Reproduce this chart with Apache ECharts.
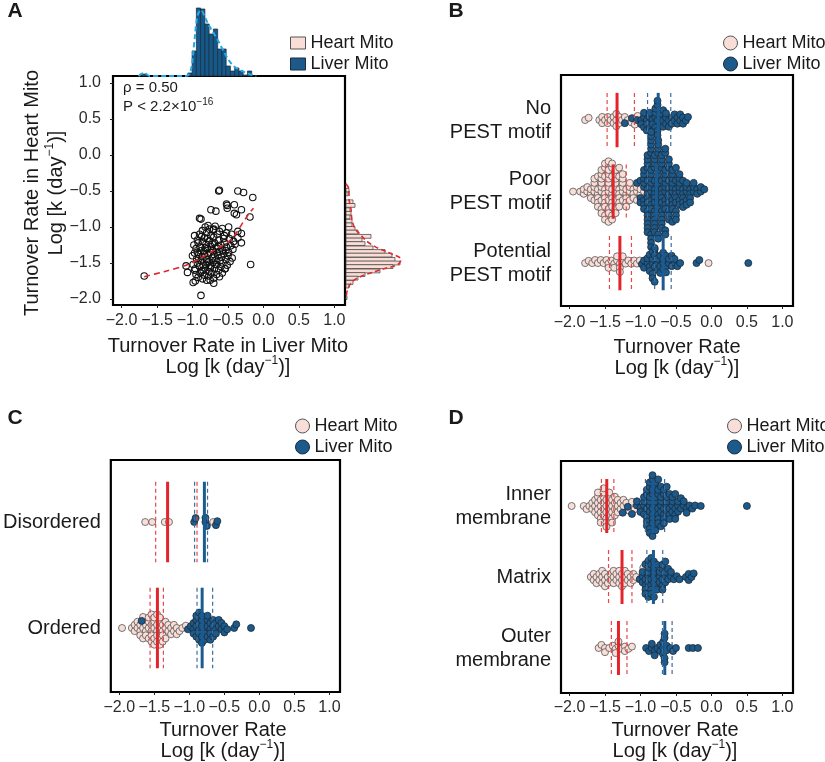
<!DOCTYPE html>
<html><head><meta charset="utf-8">
<script src="https://cdn.jsdelivr.net/npm/echarts@6/dist/echarts.min.js"></script>
<style>html,body{margin:0;padding:0;background:#fff}#c{width:825px;height:762px}</style>
</head><body><div id="c"></div>
<script>
// ---------------- DATA ----------------
const tickValues = [-2, -1.5, -1, -0.5, 0, 0.5, 1];

// Panel A: liver (x) vs heart (y) turnover, log k
const scatterA = [
 [-0.97,-1.12],[-0.93,-1.18],[-0.90,-1.10],[-0.86,-1.05],[-0.83,-1.15],[-0.80,-1.08],[-0.78,-0.98],[-0.74,-1.12],[-0.71,-1.04],[-0.68,-0.99],[-0.65,-1.10],[-0.62,-1.06],[-0.58,-1.02],[-0.55,-1.12],[-0.52,-1.08],[-0.48,-1.16],[-0.45,-1.10],[-0.42,-1.20],
 [-0.98,-1.25],[-0.95,-1.30],[-0.92,-1.22],[-0.89,-1.28],[-0.86,-1.20],[-0.84,-1.34],[-0.81,-1.24],[-0.79,-1.30],[-0.76,-1.19],[-0.74,-1.27],[-0.71,-1.33],[-0.69,-1.22],[-0.66,-1.29],[-0.63,-1.18],[-0.60,-1.25],[-0.58,-1.32],[-0.55,-1.22],[-0.52,-1.28],[-0.49,-1.35],[-0.46,-1.26],[-0.43,-1.31],[-0.40,-1.24],
 [-1.00,-1.40],[-0.97,-1.36],[-0.94,-1.44],[-0.91,-1.38],[-0.88,-1.47],[-0.86,-1.41],[-0.83,-1.37],[-0.80,-1.45],[-0.78,-1.39],[-0.75,-1.35],[-0.72,-1.43],[-0.70,-1.38],[-0.67,-1.46],[-0.64,-1.40],[-0.62,-1.34],[-0.59,-1.42],[-0.56,-1.37],[-0.53,-1.45],[-0.50,-1.40],[-0.47,-1.48],[-0.44,-1.43],
 [-0.99,-1.52],[-0.96,-1.58],[-0.93,-1.50],[-0.90,-1.55],[-0.87,-1.61],[-0.85,-1.53],[-0.82,-1.57],[-0.79,-1.50],[-0.77,-1.62],[-0.74,-1.54],[-0.71,-1.49],[-0.69,-1.58],[-0.66,-1.52],[-0.63,-1.60],[-0.60,-1.55],[-0.57,-1.50],[-0.54,-1.58],[-0.51,-1.53],
 [-0.95,-1.66],[-0.92,-1.70],[-0.89,-1.64],[-0.86,-1.72],[-0.83,-1.67],[-0.80,-1.74],[-0.77,-1.68],[-0.73,-1.64],[-0.70,-1.71],[-0.66,-1.66],[-0.62,-1.69],[-0.58,-1.64],
 [-0.88,-1.33],[-0.82,-1.29],[-0.77,-1.48],[-0.73,-1.31],[-0.68,-1.52],[-0.64,-1.27],[-0.85,-1.60],[-0.91,-1.44],[-0.79,-1.16],[-0.70,-1.14],[-0.61,-1.47],[-0.56,-1.16],[-0.93,-1.35],[-0.87,-1.13],[-0.75,-1.57],[-0.65,-1.35],[-0.53,-1.33],[-0.97,-1.60],[-0.81,-1.52],[-0.72,-1.24],
 [-0.63,-0.50],[-0.62,-0.49],[-0.36,-0.50],[-0.28,-0.52],[-0.15,-0.59],[-0.52,-0.68],[-0.51,-0.70],[-0.41,-0.69],[-0.31,-0.76],[-0.74,-0.76],[-0.67,-0.78],[-0.41,-0.81],[-0.38,-0.83],[-0.51,-0.74],[-0.90,-0.88],[-0.88,-0.89],[-0.19,-0.86],[-0.49,-1.00],[-0.82,-1.00],[-0.76,-1.03],[-0.70,-1.03],[-0.36,-1.06],[-0.31,-1.09],[-0.36,-1.15],[-0.31,-1.22],[-0.18,-1.52],[-0.88,-1.95],[-0.75,-1.74],[-0.70,-1.78],[-0.99,-1.77],[-0.96,-1.75],[-1.07,-1.63],[-1.09,-1.54],[-0.54,-1.58],[-1.68,-1.68]
];
const loessA = [[-1.68,-1.69],[-1.40,-1.62],[-1.09,-1.53],[-0.90,-1.44],[-0.74,-1.35],[-0.60,-1.27],[-0.46,-1.18],[-0.38,-1.08],[-0.31,-0.97],[-0.25,-0.88],[-0.20,-0.81],[-0.14,-0.74]];
// marginal histograms: [bin centre, height]
const liverHist = [[-1.68,2],[-1.035,3],[-0.975,25],[-0.915,68],[-0.855,67],[-0.795,52],[-0.735,42],[-0.675,47],[-0.615,27],[-0.555,27],[-0.495,10],[-0.435,5],[-0.375,8],[-0.315,5],[-0.255,1],[-0.195,5]];
const liverDensity = [[-1.76,0],[-1.68,3],[-1.60,0],[-1.10,0],[-1.03,4],[-0.98,30],[-0.93,60],[-0.88,66],[-0.83,60],[-0.78,52],[-0.72,45],[-0.66,38],[-0.60,30],[-0.54,22],[-0.48,15],[-0.42,10],[-0.36,7],[-0.30,5],[-0.24,3],[-0.18,1.5],[-0.10,0]];
const heartHist = [[-0.49,3],[-0.54,2],[-0.65,7],[-0.70,9],[-0.76,4],[-0.81,5],[-0.86,4],[-0.92,6],[-0.97,6],[-1.02,9],[-1.07,12],[-1.13,25],[-1.18,16],[-1.23,19],[-1.29,27],[-1.34,39],[-1.39,46],[-1.45,49],[-1.50,54],[-1.55,47],[-1.61,34],[-1.66,19],[-1.71,12],[-1.77,7],[-1.82,3],[-1.98,1]];
const heartDensity = [[0,-0.40],[3,-0.48],[3,-0.60],[5,-0.75],[6,-0.90],[9,-1.02],[14,-1.10],[21,-1.20],[33,-1.30],[47,-1.38],[55,-1.45],[52,-1.52],[38,-1.58],[22,-1.65],[10,-1.72],[4,-1.80],[1,-1.90],[0,-2.00]];

// Panel B: PEST motif. Each group: [log k, number of proteins]
const bCategories = ['No\nPEST motif', 'Poor\nPEST motif', 'Potential\nPEST motif'];
const bHeart = [
 [[-1.78,1],[-1.73,1],[-1.58,1],[-1.54,2],[-1.50,1],[-1.46,2],[-1.42,1],[-1.38,2],[-1.34,3],[-1.30,2],[-1.26,1],[-1.22,1],[-1.18,1],[-1.13,1],[-1.08,1],[-1.04,1]],
 [[-1.95,1],[-1.85,1],[-1.80,2],[-1.75,2],[-1.70,3],[-1.65,5],[-1.60,6],[-1.55,9],[-1.50,10],[-1.45,11],[-1.40,10],[-1.35,9],[-1.30,7],[-1.25,6],[-1.20,5],[-1.15,4],[-1.10,3],[-1.05,3],[-1.00,2],[-0.95,1]],
 [[-1.78,1],[-1.73,1],[-1.68,1],[-1.64,1],[-1.60,1],[-1.56,1],[-1.52,1],[-1.48,1],[-1.45,2],[-1.41,1],[-1.37,2],[-1.33,2],[-1.29,3],[-1.25,2],[-1.21,1],[-1.17,1],[-1.13,1],[-1.09,1],[-1.05,1],[-1.01,1],[-0.04,1]]
];
const bLiver = [
 [[-1.22,1],[-1.12,1],[-1.05,1],[-0.99,2],[-0.95,3],[-0.91,3],[-0.87,3],[-0.83,3],[-0.79,4],[-0.76,5],[-0.72,3],[-0.68,3],[-0.64,3],[-0.60,2],[-0.56,2],[-0.52,2],[-0.48,2],[-0.44,2],[-0.40,2],[-0.36,1],[-0.33,1]],
 [[-1.05,1],[-1.00,3],[-0.95,8],[-0.90,15],[-0.85,19],[-0.80,17],[-0.75,15],[-0.70,14],[-0.65,13],[-0.60,11],[-0.55,10],[-0.50,9],[-0.45,7],[-0.40,6],[-0.35,5],[-0.30,4],[-0.25,3],[-0.20,2],[-0.15,2],[-0.10,1]],
 [[-0.98,1],[-0.95,2],[-0.90,2],[-0.87,3],[-0.83,5],[-0.80,4],[-0.76,3],[-0.72,3],[-0.68,4],[-0.64,3],[-0.60,2],[-0.56,2],[-0.52,2],[-0.48,1],[-0.44,1],[-0.21,1],[-0.17,1],[0.52,1]]
];
// [lower quartile, median, upper quartile]
const bHeartStats = [[-1.47,-1.33,-1.085],[-1.49,-1.385,-1.20],[-1.437,-1.29,-1.127]];
const bLiverStats = [[-0.90,-0.75,-0.573],[-0.90,-0.775,-0.62],[-0.80,-0.68,-0.567]];

// Panel C: disorder
const cCategories = ['Disordered', 'Ordered'];
const cHeart = [
 [[-1.63,1],[-1.53,1],[-1.35,1],[-1.29,1],[-0.66,1]],
 [[-1.96,1],[-1.82,1],[-1.78,2],[-1.74,2],[-1.70,3],[-1.66,3],[-1.62,3],[-1.58,4],[-1.54,5],[-1.50,5],[-1.46,5],[-1.42,5],[-1.38,4],[-1.34,3],[-1.30,2],[-1.26,2],[-1.22,2],[-1.18,2],[-1.14,1],[-1.10,1],[-1.05,1]]
];
const cLiver = [
 [[-0.93,1],[-0.91,1],[-0.77,2],[-0.75,1],[-0.62,1],[-0.60,1]],
 [[-1.68,1],[-1.02,1],[-0.98,1],[-0.94,3],[-0.90,4],[-0.86,5],[-0.82,5],[-0.78,4],[-0.74,4],[-0.70,4],[-0.66,3],[-0.62,3],[-0.58,2],[-0.54,2],[-0.50,2],[-0.46,1],[-0.36,1],[-0.33,1],[-0.12,1]]
];
const cHeartStats = [[-1.48,-1.31,-0.89],[-1.56,-1.455,-1.37]];
const cLiverStats = [[-0.925,-0.785,-0.74],[-0.89,-0.817,-0.667]];

// Panel D: sub-mitochondrial location
const dCategories = ['Inner\nmembrane', 'Matrix', 'Outer\nmembrane'];
const dHeart = [
 [[-1.97,1],[-1.80,1],[-1.76,1],[-1.72,1],[-1.68,2],[-1.64,3],[-1.60,5],[-1.56,5],[-1.52,6],[-1.48,6],[-1.44,5],[-1.40,5],[-1.36,4],[-1.32,3],[-1.28,2],[-1.24,2],[-1.20,1],[-1.16,1],[-1.12,2],[-1.08,1]],
 [[-1.70,1],[-1.66,2],[-1.62,2],[-1.58,2],[-1.54,3],[-1.50,3],[-1.46,2],[-1.42,2],[-1.38,3],[-1.34,2],[-1.30,3],[-1.26,3],[-1.22,3],[-1.18,2],[-1.14,2],[-1.10,2],[-1.06,1],[-0.96,1]],
 [[-1.59,1],[-1.55,1],[-1.50,2],[-1.44,1],[-1.39,1],[-1.35,2],[-1.31,2],[-1.27,1],[-1.22,2],[-1.17,1],[-1.12,1]]
];
const dLiver = [
 [[-1.25,1],[-1.18,1],[-1.12,1],[-1.05,2],[-1.00,2],[-0.95,4],[-0.91,6],[-0.87,8],[-0.83,9],[-0.79,8],[-0.75,7],[-0.71,6],[-0.67,6],[-0.63,5],[-0.59,4],[-0.55,4],[-0.51,4],[-0.47,3],[-0.43,2],[-0.39,2],[-0.35,2],[-0.31,1],[-0.27,1],[-0.23,1],[-0.15,1],[0.50,1]],
 [[-1.01,1],[-0.97,3],[-0.93,5],[-0.89,6],[-0.85,6],[-0.81,6],[-0.77,4],[-0.73,3],[-0.69,5],[-0.65,4],[-0.61,2],[-0.57,2],[-0.53,1],[-0.49,1],[-0.45,1],[-0.36,1],[-0.32,2],[-0.28,1],[-0.25,1]],
 [[-0.92,1],[-0.88,1],[-0.84,2],[-0.80,2],[-0.76,1],[-0.72,2],[-0.68,3],[-0.66,4],[-0.63,2],[-0.58,1],[-0.54,1],[-0.50,1],[-0.32,1],[-0.26,1],[-0.19,1]]
];
const dHeartStats = [[-1.55,-1.475,-1.375],[-1.45,-1.26,-1.12],[-1.41,-1.31,-1.19]];
const dLiverStats = [[-0.93,-0.827,-0.66],[-0.91,-0.817,-0.686],[-0.69,-0.657,-0.554]];

// ---------------- STYLE / HELPERS ----------------
const FONT = "'Liberation Sans', Arial, Helvetica, sans-serif";
const TXT = '#1a1a1a';
const HEART_FILL = '#f9ddd7', HEART_EDGE = '#555';
const LIVER_FILL = '#1b5a8b', LIVER_EDGE = '#1e2b38';
const RED = '#e3242b', RED_D = '#e8474b', BLUE = '#1c5b91', BLUE_D = '#3d6f9e';
const X_MIN = -2.12, X_MAX = 1.15;
const HALF = 0.38; // half-height of median/quartile bars, in category units
const SWARM_D = 4.2;  // swarm spacing in px

const fmt = v => (v < 0 ? '\u2212' : '') + Math.abs(v).toFixed(1);
const expand = groups => { const out = []; groups.forEach((g, cat) => g.forEach(([x, n]) => { for (let i = 0; i < n; i++) out.push([x, cat]); })); return out; };

function xAxisPanel(gridIndex, margin) {
  return { type: 'value', gridIndex, min: X_MIN, max: X_MAX, axisLine: { show: false, onZero: false }, splitLine: { show: false },
    axisTick: { show: true, customValues: tickValues, length: 3, lineStyle: { color: '#222' } },
    axisLabel: { customValues: tickValues, formatter: fmt, fontSize: 16, color: '#2b2b2b', fontFamily: FONT, margin } };
}
function yCatAxis(gridIndex, min, max, cats) {
  return { type: 'value', gridIndex, min, max, inverse: true, axisLine: { show: false, onZero: false }, splitLine: { show: false },
    axisTick: { show: false },
    axisLabel: { customValues: cats.map((c, i) => i), formatter: v => cats[Math.round(v)], fontSize: 20, lineHeight: 24,
      color: TXT, fontFamily: FONT, margin: 10, align: 'right' } };
}
function hidden(type, gridIndex, min, max) {
  return { type, gridIndex, min, max, show: false, splitLine: { show: false }, axisLine: { onZero: false } };
}
function swarmSeries(id, name, g, groups, fill, edge, z) {
  return { id, name, type: 'scatter', xAxisIndex: g, yAxisIndex: g, z, symbol: 'circle', symbolSize: 7,
    itemStyle: { color: fill, borderColor: edge, borderWidth: 0.8, opacity: 1 }, silent: true,
    data: expand(groups) };
}
function statSeries(id, g, stats, color, dashColor) {
  const data = [];
  stats.forEach((s, cat) => { data.push([s[0], cat, 0], [s[1], cat, 1], [s[2], cat, 0]); });
  return { id, type: 'custom', xAxisIndex: g, yAxisIndex: g, z: 6, silent: true, encode: { x: 0, y: 1 }, data,
    renderItem(params, api) {
      const v = api.value(0), c = api.value(1), med = api.value(2) === 1;
      const p1 = api.coord([v, c - HALF]), p2 = api.coord([v, c + HALF]);
      return { type: 'line', z2: med ? 2 : 1, shape: { x1: p1[0], y1: p1[1], x2: p2[0], y2: p2[1] },
        style: med ? { stroke: color, lineWidth: 3 } : { stroke: dashColor, lineWidth: 1.2, lineDash: [4, 3] } };
    } };
}
function histSeries(name, g, data, width, horizontal, fill, edge) {
  return { name, type: 'custom', xAxisIndex: g, yAxisIndex: g, z: 2, silent: true, data,
    encode: horizontal ? { x: 1, y: 0 } : { x: 0, y: 1 },
    renderItem(params, api) {
      const c = api.value(0), n = api.value(1);
      let a, b;
      if (horizontal) { a = api.coord([0, c + width / 2]); b = api.coord([n, c - width / 2]); }
      else { a = api.coord([c - width / 2, n]); b = api.coord([c + width / 2, 0]); }
      return { type: 'rect', shape: { x: Math.min(a[0], b[0]), y: Math.min(a[1], b[1]), width: Math.abs(b[0] - a[0]), height: Math.abs(b[1] - a[1]) },
        style: { fill, stroke: edge, lineWidth: 0.7 } };
    } };
}
const supRich = (size, sup) => ({
  a: { fontSize: size, fontFamily: FONT, fill: TXT, color: TXT, lineHeight: size + 2, verticalAlign: 'bottom' },
  s: { fontSize: sup, fontFamily: FONT, fill: TXT, color: TXT, lineHeight: sup, verticalAlign: 'top' }
});
function text(x, y, str, size, opts = {}) {
  return { type: 'text', x, y, rotation: opts.rotation || 0, silent: true,
    style: { text: str, fill: TXT, font: `${opts.bold ? 'bold ' : ''}${size}px ${FONT}`,
      align: opts.align || 'center', verticalAlign: 'middle', textAlign: opts.align || 'center', textVerticalAlign: 'middle',
      rich: opts.rich } };
}
const logLabel = '{a|Log [k (day}{s|\u22121}{a|)]}';

const legendBase = (left, top, icon) => ({
  left, top, orient: 'vertical', icon, itemWidth: icon === 'rect' ? 15 : 14, itemHeight: icon === 'rect' ? 12 : 14, itemGap: 3,
  selectedMode: false, textStyle: { fontSize: 18, fontFamily: FONT, color: TXT },
  data: [
    { name: 'Heart Mito', itemStyle: { color: HEART_FILL, borderColor: HEART_EDGE, borderWidth: 1 } },
    { name: 'Liver Mito', itemStyle: { color: LIVER_FILL, borderColor: LIVER_EDGE, borderWidth: 1 } }
  ]
});

// ---------------- OPTION ----------------
const chart = echarts.init(document.getElementById('c'), null, { renderer: 'canvas' });
const AY_MIN = -2.083, AY_MAX = 1.097;
const boxed = { show: true, borderColor: '#000', borderWidth: 2.2, backgroundColor: 'rgba(0,0,0,0)' };
const option = {
  animation: false,
  backgroundColor: '#fff',
  grid: [
    Object.assign({ left: 113, top: 76, width: 232, height: 229 }, boxed),
    { left: 113, top: 3, width: 232, height: 73, show: false },
    { left: 346, top: 76, width: 56, height: 229, show: false },
    Object.assign({ left: 561, top: 75, width: 232, height: 231 }, boxed),
    Object.assign({ left: 108, top: 460, width: 232, height: 232 }, boxed),
    Object.assign({ left: 561, top: 461, width: 232, height: 232 }, boxed)
  ],
  xAxis: [
    xAxisPanel(0, 8),
    hidden('value', 1, X_MIN, X_MAX),
    hidden('value', 2, 0, 56),
    xAxisPanel(3, 9),
    xAxisPanel(4, 8),
    xAxisPanel(5, 7)
  ],
  yAxis: [
    { type: 'value', gridIndex: 0, min: AY_MIN, max: AY_MAX, axisLine: { show: false, onZero: false }, splitLine: { show: false },
      axisTick: { show: true, customValues: tickValues, length: 3, lineStyle: { color: '#222' } },
      axisLabel: { customValues: tickValues, formatter: fmt, fontSize: 16, color: '#2b2b2b', fontFamily: FONT, margin: 12 } },
    hidden('value', 1, 0, 73),
    hidden('value', 2, AY_MIN, AY_MAX),
    yCatAxis(3, -0.63, 2.60, bCategories),
    yCatAxis(4, -0.585, 1.604, cCategories),
    yCatAxis(5, -0.634, 2.634, dCategories)
  ],
  legend: [
    legendBase(285, 29, 'rect'),
    legendBase(718, 29, 'circle'),
    legendBase(290, 412, 'circle'),
    legendBase(722, 412, 'circle')
  ],
  graphic: [
    text(15, 11, 'A', 21, { bold: true }),
    text(456, 11, 'B', 21, { bold: true }),
    text(15, 418, 'C', 21, { bold: true }),
    text(456, 418, 'D', 21, { bold: true }),
    text(123, 88, '\u03c1 = 0.50', 15, { align: 'left' }),
    text(123, 106, '{a|P < 2.2\u00d710}{s|\u221216}', 15, { align: 'left', rich: supRich(15, 10) }),
    text(228, 346, 'Turnover Rate in Liver Mito', 20),
    text(228, 366, logLabel, 20, { rich: supRich(20, 12) }),
    text(32, 193, 'Turnover Rate in Heart Mito', 20, { rotation: Math.PI / 2 }),
    text(55, 193, logLabel, 20, { rotation: Math.PI / 2, rich: supRich(20, 12) }),
    text(677, 347, 'Turnover Rate', 20),
    text(677, 367, logLabel, 20, { rich: supRich(20, 12) }),
    text(223, 730, 'Turnover Rate', 20),
    text(223, 750, logLabel, 20, { rich: supRich(20, 12) }),
    text(675, 730, 'Turnover Rate', 20),
    text(675, 750, logLabel, 20, { rich: supRich(20, 12) })
  ],
  series: [
    // Panel A
    histSeries('Liver Mito', 1, liverHist, 0.06, false, '#14598b', '#1d2733'),
    { type: 'line', xAxisIndex: 1, yAxisIndex: 1, z: 3, data: liverDensity, smooth: 0.35, symbol: 'none', silent: true,
      lineStyle: { color: '#2aa7df', width: 2, type: [5, 3] } },
    histSeries('Heart Mito', 2, heartHist, 0.053, true, HEART_FILL, '#3a3a3a'),
    { type: 'line', xAxisIndex: 2, yAxisIndex: 2, z: 3, data: heartDensity, smooth: 0.35, symbol: 'none', silent: true,
      lineStyle: { color: '#e02b2f', width: 1.6, type: [5, 3] } },
    { type: 'scatter', xAxisIndex: 0, yAxisIndex: 0, z: 3, data: scatterA, symbol: 'circle', symbolSize: 6.5, silent: true,
      itemStyle: { color: 'rgba(255,255,255,0)', borderColor: '#111', borderWidth: 1.1, opacity: 1 } },
    { type: 'line', xAxisIndex: 0, yAxisIndex: 0, z: 4, data: loessA, smooth: 0.3, symbol: 'none', silent: true,
      lineStyle: { color: '#e0262c', width: 1.6, type: [6, 4] } },
    // Panel B
    swarmSeries('bH', 'Heart Mito', 3, bHeart, HEART_FILL, HEART_EDGE, 3),
    swarmSeries('bL', 'Liver Mito', 3, bLiver, LIVER_FILL, LIVER_EDGE, 4),
    statSeries('bHs', 3, bHeartStats, RED, RED_D),
    statSeries('bLs', 3, bLiverStats, BLUE, BLUE_D),
    // Panel C
    swarmSeries('cH', 'Heart Mito', 4, cHeart, HEART_FILL, HEART_EDGE, 3),
    swarmSeries('cL', 'Liver Mito', 4, cLiver, LIVER_FILL, LIVER_EDGE, 4),
    statSeries('cHs', 4, cHeartStats, RED, RED_D),
    statSeries('cLs', 4, cLiverStats, BLUE, BLUE_D),
    // Panel D
    swarmSeries('dH', 'Heart Mito', 5, dHeart, HEART_FILL, HEART_EDGE, 3),
    swarmSeries('dL', 'Liver Mito', 5, dLiver, LIVER_FILL, LIVER_EDGE, 4),
    statSeries('dHs', 5, dHeartStats, RED, RED_D),
    statSeries('dLs', 5, dLiverStats, BLUE, BLUE_D)
  ]
};
chart.setOption(option);

// ---------------- BEESWARM LAYOUT (pixel offsets from the library's own scale) ----------------
function swarmLayout(gridIndex, heartGroups, liverGroups) {
  const sets = [expand(heartGroups), expand(liverGroups)];
  const byCat = {};
  sets.forEach((pts, si) => pts.forEach((p, pi) => {
    const px = chart.convertToPixel({ gridIndex }, [p[0], p[1]])[0];
    (byCat[p[1]] = byCat[p[1]] || []).push({ px, si, pi, dy: 0 });
  }));
  Object.keys(byCat).forEach(k => {
    const list = byCat[k].sort((a, b) => a.px - b.px || a.si - b.si);
    const placed = [];
    let flip = 1;
    const D = SWARM_D, D2 = D * D;
    list.forEach(pt => {
      const near = placed.filter(q => Math.abs(q.px - pt.px) < D);
      const cands = [0];
      near.forEach(q => { const h = Math.sqrt(D2 - (q.px - pt.px) ** 2); cands.push(q.dy + h, q.dy - h); });
      cands.sort((a, b) => (Math.abs(a) - Math.abs(b)) || flip * (b - a));
      for (const c of cands) {
        if (near.every(q => (q.px - pt.px) ** 2 + (q.dy - c) ** 2 >= D2 - 1e-6)) { pt.dy = c; break; }
      }
      flip = -flip;
      placed.push(pt);
    });
  });
  const out = sets.map(pts => pts.map(p => ({ value: p, symbolOffset: [0, 0] })));
  Object.values(byCat).forEach(list => list.forEach(pt => { out[pt.si][pt.pi].symbolOffset = [0, pt.dy]; }));
  return out;
}
const upd = [];
[[3, bHeart, bLiver, 'b'], [4, cHeart, cLiver, 'c'], [5, dHeart, dLiver, 'd']].forEach(([g, h, l, p]) => {
  const [hd, ld] = swarmLayout(g, h, l);
  upd.push({ id: p + 'H', data: hd }, { id: p + 'L', data: ld });
});
chart.setOption({ series: upd });
</script></body></html>
